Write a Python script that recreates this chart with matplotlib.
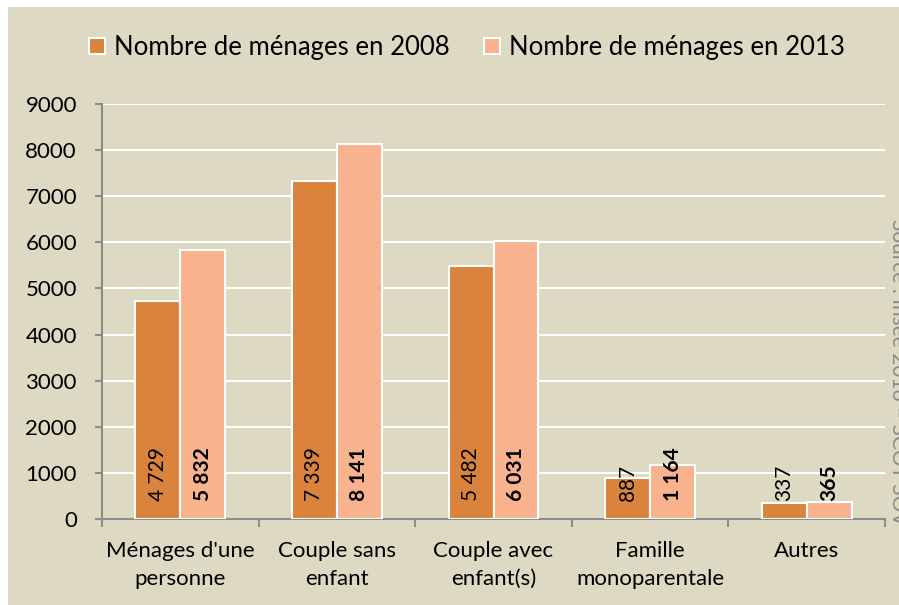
import matplotlib
matplotlib.use("Agg")
import matplotlib.pyplot as plt
import numpy as np
from matplotlib.lines import Line2D
from matplotlib.patches import Rectangle

categories = ["Ménages d'une\npersonne", "Couple sans\nenfant", "Couple avec\nenfant(s)",
              "Famille\nmonoparentale", "Autres"]
menages_2008 = [4729, 7339, 5482, 887, 337]
menages_2013 = [5832, 8141, 6031, 1164, 365]
labels_2008 = ["4 729", "7 339", "5 482", "887", "337"]
labels_2013 = ["5 832", "8 141", "6 031", "1 164", "365"]
series_names = ["Nombre de ménages en 2008", "Nombre de ménages en 2013"]
yticks = [0, 1000, 2000, 3000, 4000, 5000, 6000, 7000, 8000, 9000]

BG = "#DDD9C3"
C08 = "#D9833D"
C13 = "#F8B38E"
AXC = "#8C8C8C"

plt.rcParams["font.family"] = ["Lato", "DejaVu Sans"]

fig = plt.figure(figsize=(8.99, 6.05), dpi=100, facecolor="white")
fig.patches.append(Rectangle((8 / 899, 0), 1, (605 - 7) / 605, transform=fig.transFigure,
                             facecolor=BG, edgecolor="none", zorder=-1))
ax = fig.add_axes([102 / 899, (605 - 519) / 605, (885 - 102) / 899, (519 - 104) / 605])
ax.set_facecolor(BG)

x = np.arange(len(categories))
w = 0.287
ax.bar(x - w / 2, menages_2008, w, color=C08, edgecolor="white", linewidth=1.5, zorder=3)
ax.bar(x + w / 2, menages_2013, w, color=C13, edgecolor="white", linewidth=1.5, zorder=3)

# value labels, rotated, sitting near the base of each bar
for xi, lab in zip(x - w / 2, labels_2008):
    ax.annotate(lab, (xi, 0), xytext=(0, 13), textcoords="offset points", rotation=90,
                ha="center", va="bottom", fontsize=15, color="black", zorder=4)
for xi, lab in zip(x + w / 2, labels_2013):
    ax.annotate(lab, (xi, 0), xytext=(0, 13), textcoords="offset points", rotation=90,
                ha="center", va="bottom", fontsize=15, fontweight="bold", color="black", zorder=4)

ax.set_xlim(-0.5, len(categories) - 0.5)
ax.set_ylim(0, 9000)
ax.set_yticks(yticks)
ax.set_xticks(x)
ax.set_xticklabels(categories, fontsize=16, linespacing=1.5)
ax.set_xticks(np.arange(len(categories) + 1) - 0.5, minor=True)
ax.tick_params(axis="x", which="major", length=0, pad=16)
ax.tick_params(axis="x", which="minor", length=6, width=1.5, color=AXC, direction="out")
ax.tick_params(axis="y", length=5, width=1.5, color=AXC, pad=13, labelsize=16)

ax.yaxis.grid(True, color="white", linewidth=1.5, zorder=0)
ax.set_axisbelow(True)
for s in ("top", "right"):
    ax.spines[s].set_visible(False)
for s in ("left", "bottom"):
    ax.spines[s].set_color(AXC)
    ax.spines[s].set_linewidth(1.5)

handles = [Line2D([], [], marker="s", linestyle="none", markersize=12, markerfacecolor=c,
                  markeredgecolor="white", markeredgewidth=1.5) for c in (C08, C13)]
fig.legend(handles, series_names, loc="center", bbox_to_anchor=(466 / 899, 1 - 47 / 605),
           ncol=2, frameon=False, fontsize=18.5, handlelength=0.8, handletextpad=0.25,
           columnspacing=1.25)

# source note, cut by the right edge as in the original
fig.text(0.999, 1 - 372 / 605, "Source : Insee 2016 – SCOT SOV", rotation=-90, ha="center",
         va="center", fontsize=15, color="#8A8A8A")

fig.savefig("out.png", dpi=100, facecolor=fig.get_facecolor())
